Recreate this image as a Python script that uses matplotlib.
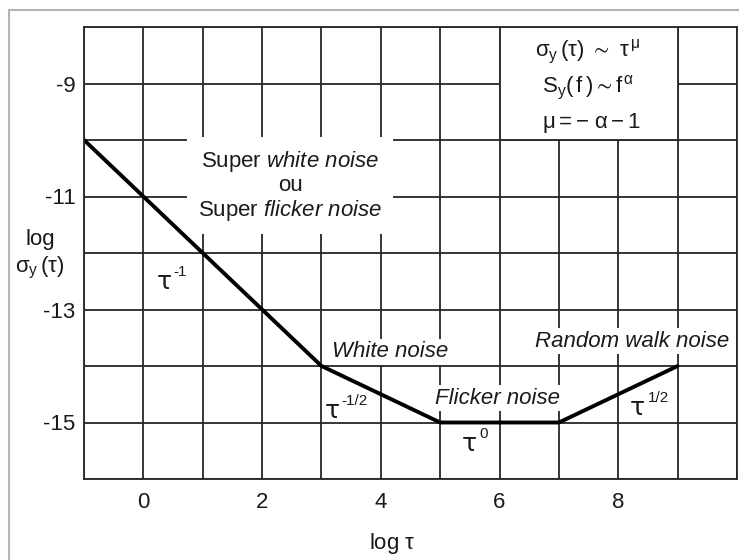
import matplotlib
matplotlib.use("Agg")
import matplotlib.pyplot as plt
from matplotlib.patches import Rectangle
from matplotlib.transforms import offset_copy

plt.rcParams['font.family'] = ['Liberation Sans', 'DejaVu Sans']
plt.rcParams['mathtext.fontset'] = 'custom'
plt.rcParams['mathtext.rm'] = 'Liberation Sans'
plt.rcParams['mathtext.it'] = 'Liberation Sans:italic'
plt.rcParams['mathtext.bf'] = 'Liberation Sans:bold'

# ---- data ----
log_tau = [-1, 3, 5, 7, 9]
log_sigma = [-10, -14, -15, -15, -14]
x_grid = list(range(-1, 11))
y_grid = list(range(-16, -7))
x_labels = [0, 2, 4, 6, 8]
y_labels = [-9, -11, -13, -15]

TXT = '#1a1a1a'
GRID = '#262626'
FS = 16

fig = plt.figure(figsize=(7.39, 5.6), dpi=100)
fig.patches.append(Rectangle((9/739, -0.1), 1.2, 1 - 10/560 + 0.1, transform=fig.transFigure,
                             facecolor='none', edgecolor='#b4b4b4', lw=1.5, figure=fig))
ax = fig.add_axes([84/739, 1 - 479/560, 653/739, 452/560])
ax.set_xlim(-1, 10)
ax.set_ylim(-16, -8)

ax.set_xticks(x_grid)
ax.set_xticklabels([str(v) if v in x_labels else '' for v in x_grid])
ax.set_yticks(y_grid)
ax.set_yticklabels([str(v) if v in y_labels else '' for v in y_grid])
ax.tick_params(length=0, labelsize=FS, colors=TXT)
ax.tick_params(axis='y', pad=6)
ax.tick_params(axis='x', pad=9)
ax.grid(True, color=GRID, lw=1.3)
ax.set_axisbelow(True)
for s in ax.spines.values():
    s.set_color(GRID)
    s.set_linewidth(1.3)

# white formula box covering cells
ax.add_patch(Rectangle((6, -10), 3, 2, facecolor='white', edgecolor=GRID, lw=1.3, zorder=1))

ax.plot(log_tau, log_sigma, color='black', lw=2.8, zorder=2, solid_capstyle='round')

wb = dict(facecolor='white', edgecolor='none', pad=2)


def tau_label(x, y, sup):
    ax.text(x, y, 'τ', ha='left', va='center', fontsize=18, color=TXT, zorder=3,
            family='DejaVu Sans')
    tr = offset_copy(ax.transData, fig=fig, x=12.5, y=7.5, units='points')
    ax.text(x, y, sup, ha='left', va='center', fontsize=11, color=TXT, zorder=3, transform=tr)


ax.text(2.47, -10.81, 'Super $\\mathit{white\\ noise}$\nou\nSuper $\\mathit{flicker\\ noise}$',
        ha='center', va='center', fontsize=FS, color=TXT, linespacing=1.1,
        bbox=dict(facecolor='white', edgecolor='none', pad=8), zorder=3)

ax.text(7.49, -8.44, r'$\mathregular{σ_y\,(τ)\ \sim\ τ^{\,μ}}$', ha='center', va='center',
        fontsize=FS, color=TXT, zorder=3)
ax.text(7.5, -9.08, r'$\mathregular{S_y(\,f\,)\sim f^{\,α}}$', ha='center', va='center',
        fontsize=FS, color=TXT, zorder=3)
ax.text(7.55, -9.70, r'$\mathregular{μ = -\ α - 1}$', ha='center', va='center',
        fontsize=FS, color=TXT, zorder=3)

tau_label(0.22, -12.52, '-1')
ax.text(4.15, -13.75, 'White noise', style='italic', ha='center', va='center', fontsize=FS,
        color=TXT, bbox=wb, zorder=3)
tau_label(3.05, -14.8, '-1/2')
ax.text(5.97, -14.57, 'Flicker noise', style='italic', ha='center', va='center', fontsize=FS,
        color=TXT, bbox=wb, zorder=3)
tau_label(5.36, -15.38, '0')
ax.text(8.23, -13.56, 'Random walk noise', style='italic', ha='center', va='center', fontsize=FS,
        color=TXT, bbox=wb, zorder=3)
tau_label(8.2, -14.75, '1/2')

fig.text(392/739, 1 - 543/560, r'log $\mathregular{τ}$', ha='center', va='center', fontsize=FS, color=TXT)
fig.text(40/739, 1 - 240/560, 'log', ha='center', va='center', fontsize=FS, color=TXT)
fig.text(40/739, 1 - 268/560, r'$\mathregular{σ_y\,(τ)}$', ha='center', va='center', fontsize=FS, color=TXT)

fig.savefig('out.png', dpi=100, facecolor='white')
